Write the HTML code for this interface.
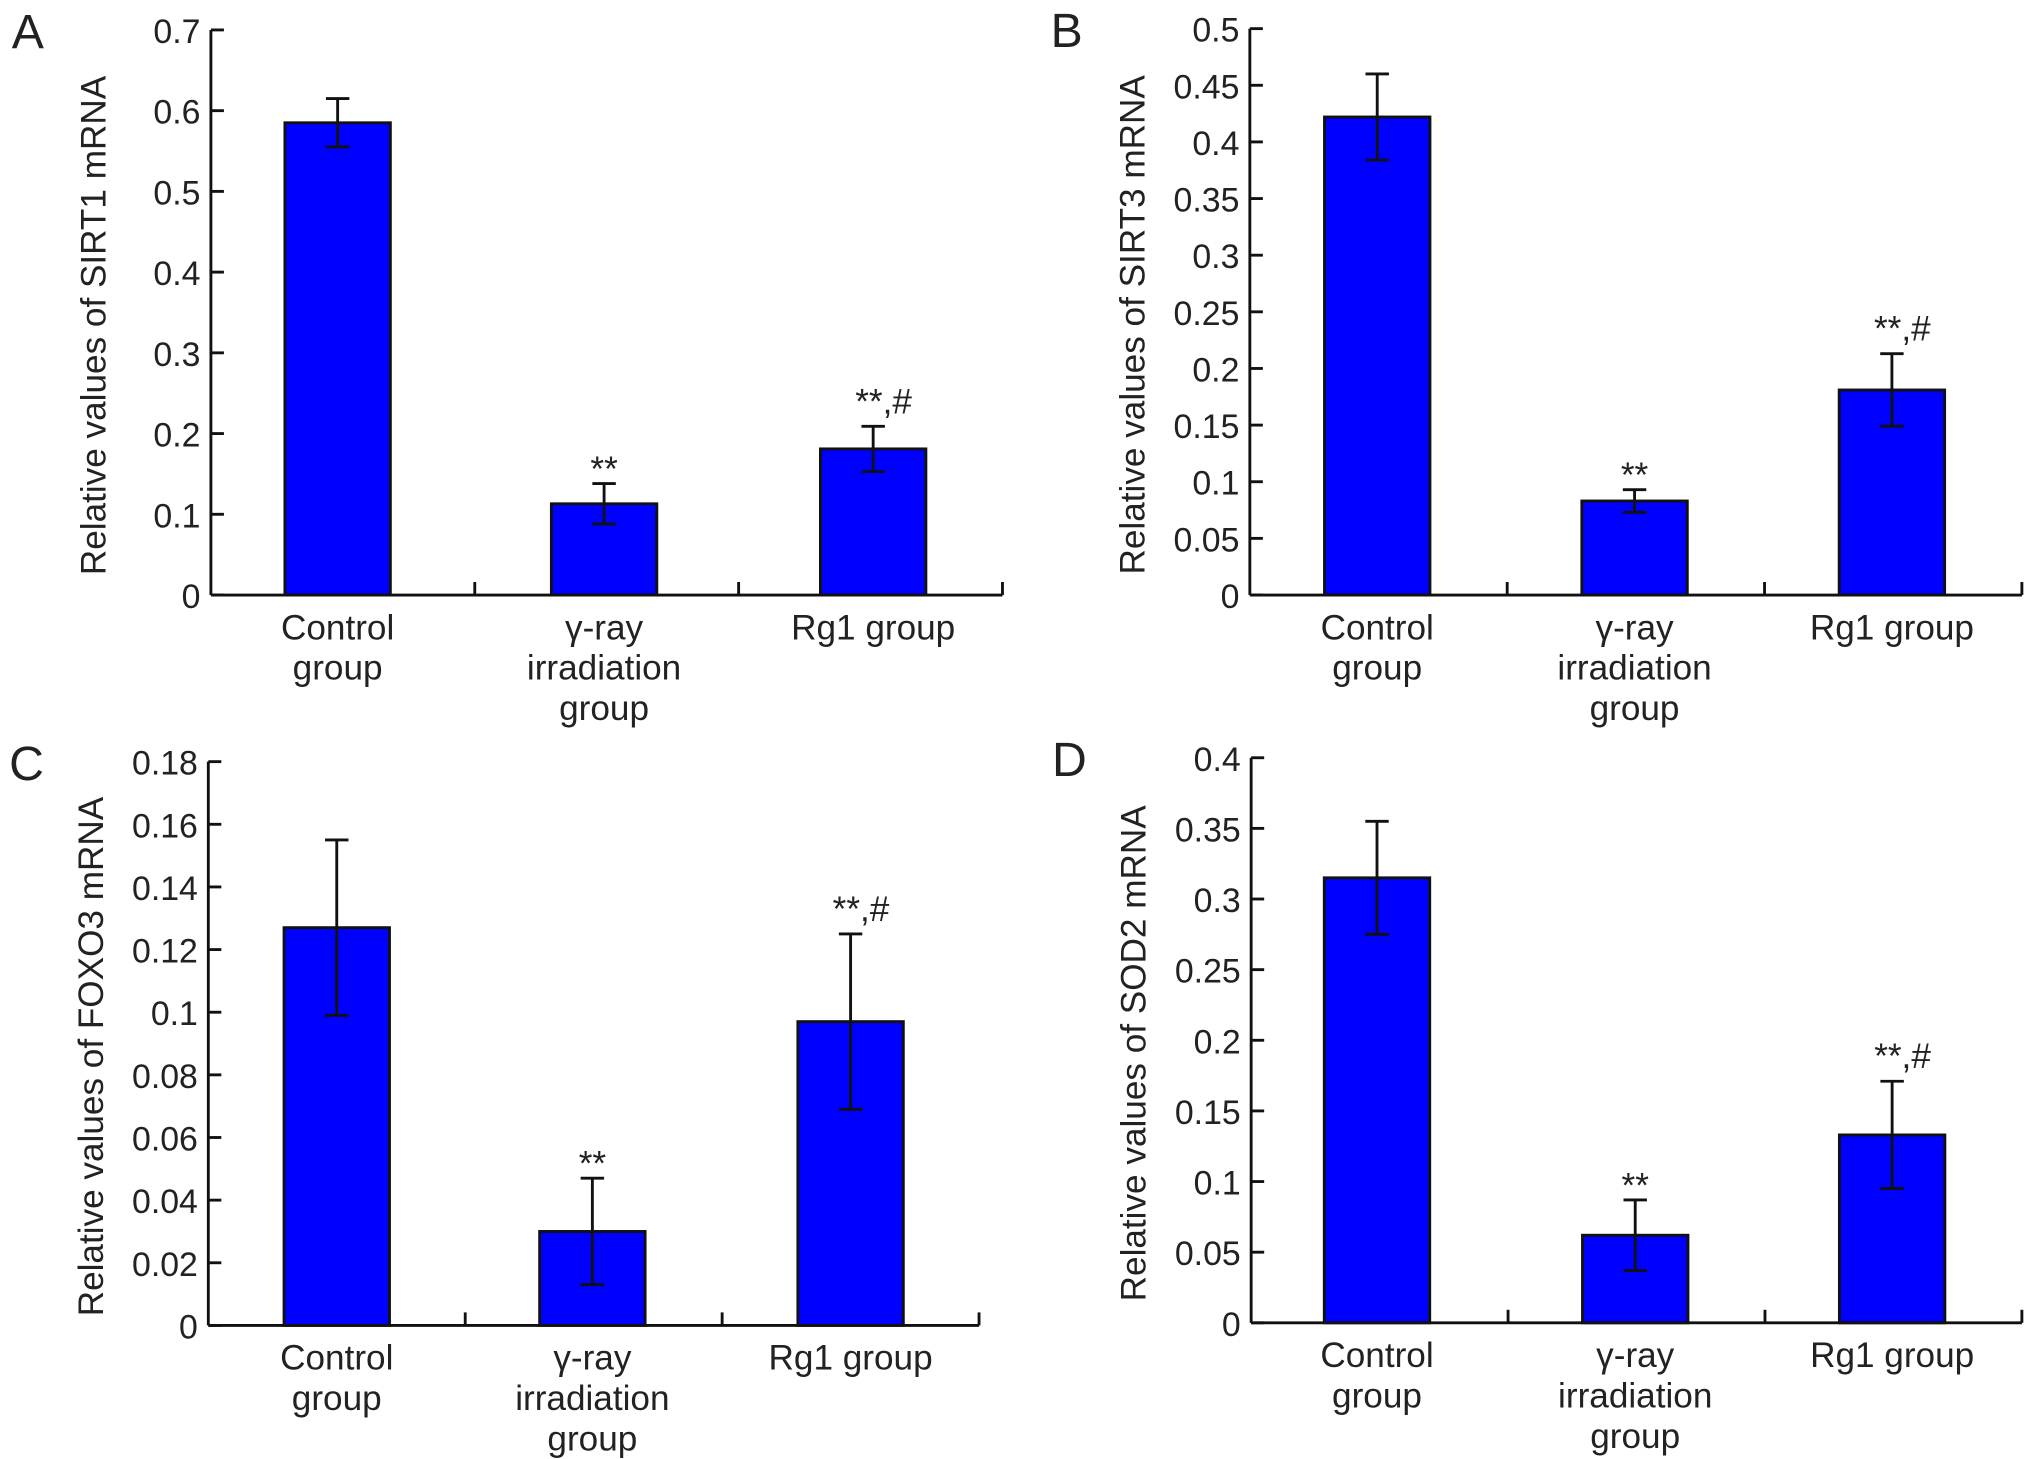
<!DOCTYPE html>
<html><head><meta charset="utf-8">
<style>
html,body{margin:0;padding:0;background:#fff;}
svg{display:block;}
text{font-family:"Liberation Sans",Arial,sans-serif;fill:#222;}
</style></head>
<body>
<svg id="fig" width="2031" height="1459" viewBox="0 0 1560 1120.6" preserveAspectRatio="none" xmlns="http://www.w3.org/2000/svg"></svg>
<script>
const categories = [["Control","group"],["\u03b3-ray","irradiation","group"],["Rg1 group"]];
const sirt1Values = [0.585, 0.113, 0.181];
const sirt1Errors = [0.030, 0.025, 0.028];
const sirt1Ticks = ["0","0.1","0.2","0.3","0.4","0.5","0.6","0.7"];
const sirt3Values = [0.422, 0.083, 0.181];
const sirt3Errors = [0.038, 0.010, 0.032];
const sirt3Ticks = ["0","0.05","0.1","0.15","0.2","0.25","0.3","0.35","0.4","0.45","0.5"];
const foxo3Values = [0.127, 0.030, 0.097];
const foxo3Errors = [0.028, 0.017, 0.028];
const foxo3Ticks = ["0","0.02","0.04","0.06","0.08","0.1","0.12","0.14","0.16","0.18"];
const sod2Values = [0.315, 0.062, 0.133];
const sod2Errors = [0.040, 0.025, 0.038];
const sod2Ticks = ["0","0.05","0.1","0.15","0.2","0.25","0.3","0.35","0.4"];
const annotations = ["", "**", "**,#"];

const NS = "http://www.w3.org/2000/svg";
const svg = document.getElementById('fig');
function mk(tag, attrs, parent){
  const e = document.createElementNS(NS, tag);
  for (const k in attrs) e.setAttribute(k, attrs[k]);
  (parent||svg).appendChild(e);
  return e;
}
function panel(p){
  const g = mk('g', {});
  
  
  const max = parseFloat(p.ticks[p.ticks.length-1]);
  const yS = v => p.bottom - (v/max)*(p.bottom - p.top);
  const n = categories.length;
  const gw = (p.right - p.left)/n;
  const xC = i => p.left + gw*(i+0.5) + p.shift[i];
  const L = mk('text', {x:p.left-153, y:p.top+14, 'font-size':37}, g);
  L.textContent = p.letter;
  
  
  p.values.forEach((v,i)=>{
    const cx = xC(i), bw = 81;
    const r = mk('rect', {x:cx-bw/2, y:yS(v), width:bw, height:p.bottom-yS(v), fill:'#0000ff', stroke:'#111', 'stroke-width':2.2}, g);
    
    
    const e = p.errors[i];
    const eg = mk('g', {stroke:'#111','stroke-width':2.2}, g);
    
    
    mk('line', {x1:cx, x2:cx, y1:yS(v+e), y2:yS(v-e)}, eg);
    mk('line', {x1:cx-9, x2:cx+9, y1:yS(v+e), y2:yS(v+e)}, eg);
    mk('line', {x1:cx-9, x2:cx+9, y1:yS(v-e), y2:yS(v-e)}, eg);
    if (annotations[i]) {
      const t = mk('text', {x:cx+(annotations[i].length>2?8:0), y:yS(v+e)+ (annotations[i].length>2?-10:-2), 'font-size':27, 'text-anchor':'middle'}, g);
      t.textContent = annotations[i];
      
      
    }
    categories[i].forEach((line,j)=>{
      const t = mk('text', {x:cx, y:p.bottom+34+j*31, 'font-size':27, 'text-anchor':'middle'}, g);
      t.textContent = line;
      
      
    });
  });
  const ax = mk('g', {stroke:'#111','stroke-width':2.2, fill:'none'}, g);
  
  
  mk('line', {x1:p.left, x2:p.left, y1:p.top, y2:p.bottom}, ax);
  mk('line', {x1:p.left, x2:p.right, y1:p.bottom, y2:p.bottom}, ax);
  for (let i=1;i<=n;i++){ const x = p.left+gw*i; mk('line',{x1:x,x2:x,y1:p.bottom,y2:p.bottom-10},ax); }
  p.ticks.forEach(tk=>{
    const y = yS(parseFloat(tk));
    mk('line', {x1:p.left, x2:p.left+10, y1:y, y2:y}, ax);
    const t = mk('text', {x:p.left-8, y:y+10, 'font-size':26, 'text-anchor':'end'}, g);
    t.textContent = tk;
    
    
  });
  const cy = (p.top+p.bottom)/2 + 10;
  const yt = mk('text', {x:p.left-81, y:cy, 'font-size':27, 'text-anchor':'middle', transform:`rotate(-90 ${p.left-81} ${cy})`}, g);
  yt.textContent = p.title;
  
  
}
panel({letter:'A', left:162, right:770, top:23, bottom:457, values:sirt1Values, errors:sirt1Errors, ticks:sirt1Ticks, title:'Relative values of SIRT1 mRNA', shift:[-4,-2,2]});
panel({letter:'B', left:960, right:1553, top:22, bottom:457, values:sirt3Values, errors:sirt3Errors, ticks:sirt3Ticks, title:'Relative values of SIRT3 mRNA', shift:[-1,-1,-1]});
panel({letter:'C', left:160, right:752, top:585, bottom:1018, values:foxo3Values, errors:foxo3Errors, ticks:foxo3Ticks, title:'Relative values of FOXO3 mRNA', shift:[0,-1,0]});
panel({letter:'D', left:961, right:1553, top:582, bottom:1016, values:sod2Values, errors:sod2Errors, ticks:sod2Ticks, title:'Relative values of SOD2 mRNA', shift:[-2,-1,-1]});
</script>
</body></html>
